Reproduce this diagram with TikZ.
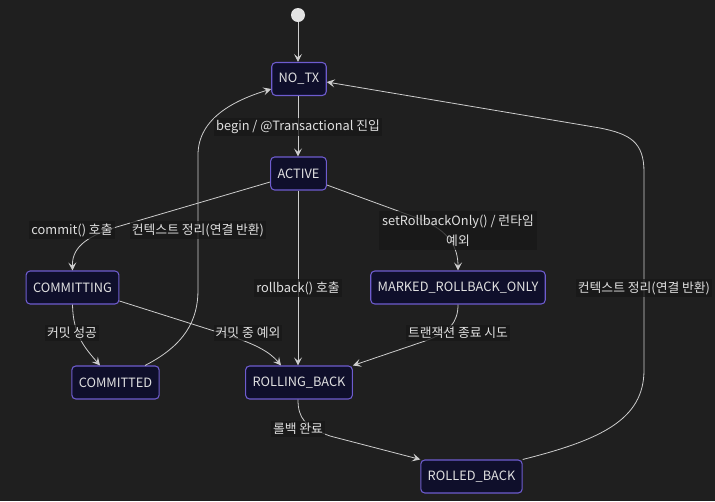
\documentclass[tikz,border=0pt]{standalone}
\usepackage{fontspec}
\setmainfont{Noto Sans CJK KR}
\usetikzlibrary{arrows.meta}
\definecolor{bgc}{HTML}{1F1F1F}
\definecolor{nodefill}{HTML}{0F0F2B}
\definecolor{nodeborder}{HTML}{6E5CCF}
\definecolor{txt}{HTML}{E0E0E0}
\definecolor{edgec}{HTML}{CDCDCD}
\definecolor{lblbg}{HTML}{171717}
\tikzset{
  statebox/.style={draw=nodeborder, fill=nodefill, rounded corners=3pt, line width=0.8pt,
    minimum height=24.75pt, inner xsep=5.2pt, text=txt, font=\fontsize{9.6pt}{12pt}\selectfont},
  lbl/.style={fill=lblbg, fill opacity=0.75, text opacity=1, text=txt, inner sep=1.5pt,
    font=\fontsize{9.6pt}{15pt}\selectfont, align=center},
  edge/.style={draw=edgec, line width=0.6pt, -{Stealth[length=6pt,width=6pt,inset=2.5pt]}},
}
\begin{document}
\begin{tikzpicture}[x=0.75pt,y=-0.75pt]
\path[use as bounding box, fill=bgc] (0,0) rectangle (715,501);
% nodes
\node[circle, fill=txt!90, inner sep=0pt, minimum size=10.5pt] (start) at (298,15) {};
\node[statebox] (notx) at (299,79) {NO\_TX};
\node[statebox] (active) at (298.5,173.5) {ACTIVE};
\node[statebox] (committing) at (72.5,287.5) {COMMITTING};
\node[statebox] (marked) at (458,287.5) {MARKED\_ROLLBACK\_ONLY};
\node[statebox] (committed) at (115.5,382.5) {COMMITTED};
\node[statebox] (rolling) at (299,382.5) {ROLLING\_BACK};
\node[statebox] (rolled) at (471.5,476.5) {ROLLED\_BACK};
% edges
\draw[edge] (start) -- (notx.north -| start);
\draw[edge] (notx.south -| start) -- (active.north -| start);
\draw[edge] (active.west |- 0,182) -- (120,226) .. controls (82,237) and (72,250) .. (committing.north);
\draw[edge] (active.east |- 0,185) -- (420,219) .. controls (450,231) and (458,248) .. (marked.north);
\draw[edge] (active.south -| start) -- (rolling.north -| start);
\draw[edge] (committing.south) .. controls (73,335) and (85,348) .. (committed.north -| 100,0);
\draw[edge] (committing.east |- 0,301) -- (230,336) .. controls (255,344) and (270,352) .. (rolling.north -| 281,0);
\draw[edge] (marked.south) .. controls (458,322) and (450,332) .. (425,341) -- (rolling.north east);
\draw[edge] (committed.north -| 145,0) .. controls (185,345) and (198,320) .. (198,290) -- (198,155)
   .. controls (198,118) and (235,100) .. (notx.west |- 0,89);
\draw[edge] (rolling.south -| start) .. controls (298,418) and (305,427) .. (330,436) -- (rolled.north west);
\draw[edge] (rolled.north east) .. controls (600,440) and (644,420) .. (644,370) -- (644,172)
   .. controls (644,142) and (630,134) .. (600,128) -- (notx.east |- 0,82);
% labels
\node[lbl] (l1) at (298,127) {begin / @Transactional 진입};
\node[lbl] (l2) at (72,230) {commit() 호출};
\node[lbl] (l3) at (198,230) {컨텍스트 정리(연결 반환)};
\node[lbl, inner sep=2.5pt] (l4) at (458,230.5) {setRollbackOnly() / 런타임\\예외};
\node[lbl] (l5) at (298,288) {rollback() 호출};
\node[lbl] (l6) at (644,288) {컨텍스트 정리(연결 반환)};
\node[lbl] (l7) at (72,333) {커밋 성공};
\node[lbl] (l8) at (248,333) {커밋 중 예외};
\node[lbl] (l9) at (458,333) {트랜잭션 종료 시도};
\node[lbl] (l10) at (298,429) {롤백 완료};
\end{tikzpicture}
\end{document}
